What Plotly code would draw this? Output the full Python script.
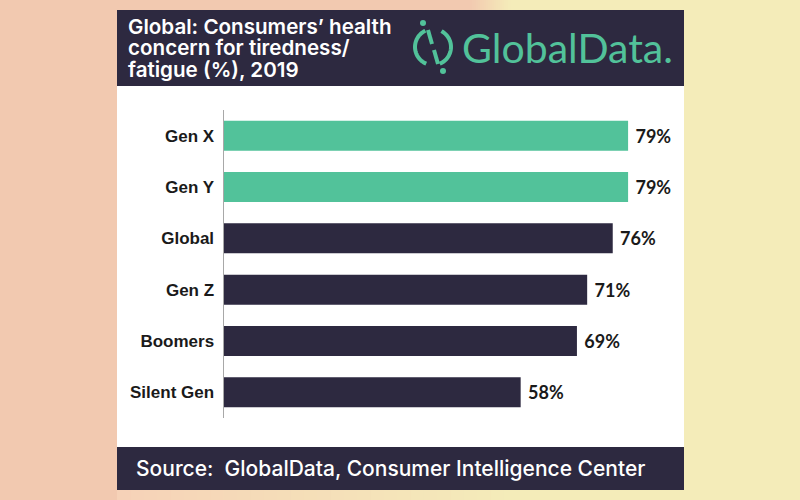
import math
import plotly.graph_objects as go

# ---- data ----
categories = ["Gen X", "Gen Y", "Global", "Gen Z", "Boomers", "Silent Gen"]
values = [79, 79, 76, 71, 69, 58]
highlight = [True, True, False, False, False, False]

title_lines = ["Global: Consumers\u2019 health", "concern for tiredness/", "fatigue (%), 2019"]
source_text = "Source:  GlobalData, Consumer Intelligence Center"
logo_text = "GlobalData."

W, H = 800, 500
NAVY = "#2d2940"
GREEN = "#52c29a"
PEACH = "#f2c9b0"
YELLOW = "#f4ecb9"


def px(x):
    return x / W


def py(y):
    return 1 - y / H


def hex_to_rgb(h):
    h = h.lstrip("#")
    return tuple(int(h[i:i + 2], 16) for i in (0, 2, 4))


def mix(c1, c2, t):
    a, b = hex_to_rgb(c1), hex_to_rgb(c2)
    return "rgb(%d,%d,%d)" % tuple(round(a[i] + (b[i] - a[i]) * t) for i in range(3))


shapes = []
# yellow right part of background
shapes.append(dict(type="rect", xref="paper", yref="paper", x0=px(505), x1=1, y0=0, y1=1,
                   fillcolor=YELLOW, line_width=0, layer="below"))
# top strip gradient
n = 20
for i in range(n):
    x0 = 470 + i * 40 / n
    shapes.append(dict(type="rect", xref="paper", yref="paper", x0=px(x0), x1=px(x0 + 40 / n + 0.5),
                       y0=py(12), y1=1, fillcolor=mix(PEACH, YELLOW, (i + 0.5) / n),
                       line_width=0, layer="below"))
# bottom strip gradient
n2 = 30
for i in range(n2):
    x0 = 117 + i * 400 / n2
    shapes.append(dict(type="rect", xref="paper", yref="paper", x0=px(x0), x1=px(x0 + 400 / n2 + 0.5),
                       y0=0, y1=py(488), fillcolor=mix("#f6d2b8", YELLOW, (i + 0.5) / n2),
                       line_width=0, layer="below"))
# card
shapes.append(dict(type="rect", xref="paper", yref="paper", x0=px(117), x1=px(684), y0=py(490), y1=py(10),
                   fillcolor="white", line_width=0, layer="below"))
# header
shapes.append(dict(type="rect", xref="paper", yref="paper", x0=px(117), x1=px(684), y0=py(86), y1=py(10),
                   fillcolor=NAVY, line_width=0, layer="below"))
# footer
shapes.append(dict(type="rect", xref="paper", yref="paper", x0=px(117), x1=px(684), y0=py(490), y1=py(447),
                   fillcolor=NAVY, line_width=0, layer="below"))

# logo icon
cx, cy, r = 433, 47, 18


def arc(a0, a1, steps=30):
    pts = []
    for k in range(steps + 1):
        a = math.radians(a0 + (a1 - a0) * k / steps)
        pts.append((cx + r * math.cos(a), cy + r * math.sin(a)))
    return "M " + " L ".join("%.5f,%.5f" % (px(x), py(y)) for x, y in pts)


for a0, a1 in [(112, 245), (-62, 68)]:
    shapes.append(dict(type="path", xref="paper", yref="paper", path=arc(a0, a1),
                       line=dict(color=GREEN, width=4), layer="above"))
for (x0, y0, x1, y1) in [(428, 30, 432, 44), (434, 50, 438, 64)]:
    shapes.append(dict(type="line", xref="paper", yref="paper", x0=px(x0), y0=py(y0), x1=px(x1), y1=py(y1),
                       line=dict(color=GREEN, width=4), layer="above"))
for (dx, dy) in [(423, 23), (443, 71)]:
    shapes.append(dict(type="circle", xref="paper", yref="paper", x0=px(dx - 3), x1=px(dx + 3),
                       y0=py(dy + 3), y1=py(dy - 3), fillcolor=GREEN, line_width=0, layer="above"))

annotations = []
for i, line in enumerate(title_lines):
    annotations.append(dict(text=line, xref="paper", yref="paper", x=px(126), y=py(26.5 + 21.5 * i),
                            xanchor="left", yanchor="middle", showarrow=False,
                            font=dict(family="Inter", size=20.6, color="white", weight=600)))
annotations.append(dict(text=logo_text, xref="paper", yref="paper", x=px(460), y=py(48),
                        xanchor="left", yanchor="middle", showarrow=False,
                        font=dict(family="Lato", size=41, color=GREEN)))
annotations.append(dict(text=source_text, xref="paper", yref="paper", x=px(134), y=py(468),
                        xanchor="left", yanchor="middle", showarrow=False,
                        font=dict(family="Inter", size=21, color="white", weight=500)))

fig = go.Figure()
fig.add_trace(go.Bar(
    x=values, y=categories, orientation="h",
    marker=dict(color=[GREEN if h else NAVY for h in highlight], line_width=0),
    width=0.585,
    texttemplate=" %{x}%", textposition="outside", cliponaxis=False,
    textfont=dict(family="Lato", size=18, color="#1a1a1a", weight=700),
    hoverinfo="skip",
))

fig.update_layout(
    width=W, height=H,
    margin=dict(l=0, r=0, t=0, b=0),
    paper_bgcolor=PEACH, plot_bgcolor="rgba(0,0,0,0)",
    showlegend=False,
    shapes=shapes, annotations=annotations,
    xaxis=dict(domain=[px(224), px(684)], range=[0, 460 / 5.115], visible=False, fixedrange=True),
    yaxis=dict(domain=[py(418), py(110)], type="category", categoryorder="array",
               categoryarray=categories, autorange="reversed",
               showline=True, linecolor="#a8a8a8", linewidth=1.5, showgrid=False, zeroline=False,
               ticks="", ticklabelstandoff=5, fixedrange=True,
               tickfont=dict(family="Liberation Sans", size=17, color="#1a1a1a", weight=700)),
)

fig.write_html("out.html", config={"displayModeBar": False, "staticPlot": True},
               post_script="document.body.style.margin='0';document.body.style.overflow='hidden';")
